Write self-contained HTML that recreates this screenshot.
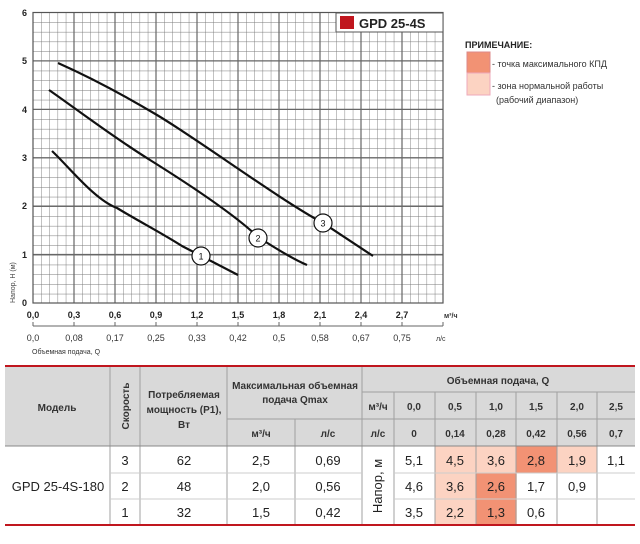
<!DOCTYPE html>
<html><head><meta charset="utf-8"><style>
html,body{margin:0;padding:0;background:#fff;}
svg{display:block;font-family:"Liberation Sans",sans-serif;}
</style></head><body>
<svg width="640" height="544" viewBox="0 0 640 544" xmlns="http://www.w3.org/2000/svg">
<defs>
<pattern id="g" x="33" y="12.5" width="8.2" height="9.7" patternUnits="userSpaceOnUse">
<path d="M0 0V9.7M0 0H8.2" stroke="#777" stroke-width="0.9" fill="none"/>
</pattern>
</defs>
<rect x="33" y="12.5" width="410" height="290.5" fill="url(#g)"/>
<g stroke="#666" stroke-width="1.2">
<line x1="74" y1="12.5" x2="74" y2="303"/><line x1="115" y1="12.5" x2="115" y2="303"/><line x1="156" y1="12.5" x2="156" y2="303"/><line x1="197" y1="12.5" x2="197" y2="303"/><line x1="238" y1="12.5" x2="238" y2="303"/><line x1="279" y1="12.5" x2="279" y2="303"/><line x1="320" y1="12.5" x2="320" y2="303"/><line x1="361" y1="12.5" x2="361" y2="303"/><line x1="402" y1="12.5" x2="402" y2="303"/>
<line x1="33" y1="60.9" x2="443" y2="60.9"/><line x1="33" y1="109.3" x2="443" y2="109.3"/><line x1="33" y1="157.7" x2="443" y2="157.7"/><line x1="33" y1="206.1" x2="443" y2="206.1"/><line x1="33" y1="254.5" x2="443" y2="254.5"/>
</g>
<rect x="33" y="12.5" width="410" height="290.5" fill="none" stroke="#555" stroke-width="1.2"/>
<g font-size="9" font-weight="bold" fill="#222" text-anchor="end">
<text x="27" y="16">6</text><text x="27" y="64">5</text><text x="27" y="113">4</text><text x="27" y="161">3</text><text x="27" y="209">2</text><text x="27" y="258">1</text><text x="27" y="306">0</text>
</g>
<text transform="translate(15,303) rotate(-90)" font-size="7" fill="#444">Напор, H (м)</text>
<g font-size="9" font-weight="bold" fill="#222" text-anchor="middle">
<text x="33" y="318">0,0</text><text x="74" y="318">0,3</text><text x="115" y="318">0,6</text><text x="156" y="318">0,9</text><text x="197" y="318">1,2</text><text x="238" y="318">1,5</text><text x="279" y="318">1,8</text><text x="320" y="318">2,1</text><text x="361" y="318">2,4</text><text x="402" y="318">2,7</text>
</g>
<text x="444" y="318" font-size="7" fill="#333" font-weight="bold">м³/ч</text>
<line x1="33" y1="326" x2="443" y2="326" stroke="#666" stroke-width="1"/>
<g stroke="#666"><line x1="33" y1="326" x2="33" y2="322"/><line x1="74" y1="326" x2="74" y2="322"/><line x1="115" y1="326" x2="115" y2="322"/><line x1="156" y1="326" x2="156" y2="322"/><line x1="197" y1="326" x2="197" y2="322"/><line x1="238" y1="326" x2="238" y2="322"/><line x1="279" y1="326" x2="279" y2="322"/><line x1="320" y1="326" x2="320" y2="322"/><line x1="361" y1="326" x2="361" y2="322"/><line x1="402" y1="326" x2="402" y2="322"/><line x1="443" y1="326" x2="443" y2="322"/></g>
<g font-size="9" fill="#333" text-anchor="middle">
<text x="33" y="341">0,0</text><text x="74" y="341">0,08</text><text x="115" y="341">0,17</text><text x="156" y="341">0,25</text><text x="197" y="341">0,33</text><text x="238" y="341">0,42</text><text x="279" y="341">0,5</text><text x="320" y="341">0,58</text><text x="361" y="341">0,67</text><text x="402" y="341">0,75</text>
</g>
<text x="436" y="341" font-size="7" fill="#333">л/с</text>
<text x="32" y="354" font-size="7" fill="#333">Объемная подача, Q</text>
<g fill="none" stroke="#111" stroke-width="2.2">
<path d="M58 63 C85 75 115 90 157 115 S280 200 323 223 L373 256"/>
<path d="M49 90 C75 108 110 135 150 160 S235 215 258 237 C275 248 295 260 307 265"/>
<path d="M52 151 C70 168 95 200 117 208 C140 222 160 232 182 246 L238 275"/>
</g>
<g fill="#fff" stroke="#111" stroke-width="1.2">
<circle cx="201" cy="256" r="9"/><circle cx="258" cy="238" r="9"/><circle cx="323" cy="223" r="9"/>
</g>
<g font-size="9" fill="#111" text-anchor="middle"><text x="201" y="259.5">1</text><text x="258" y="241.5">2</text><text x="323" y="226.5">3</text></g>
<rect x="336" y="13" width="107" height="19" fill="#fff" stroke="#555"/>
<rect x="340" y="16" width="14" height="13" fill="#c0161e"/>
<text x="359" y="28" font-size="13" font-weight="bold" fill="#222">GPD 25-4S</text>
<text x="465" y="48" font-size="9" font-weight="bold" fill="#222">ПРИМЕЧАНИЕ:</text>
<rect x="467" y="52" width="23" height="21" fill="#f29274" stroke="#d88"/>
<rect x="467" y="73" width="23" height="22" fill="#fcd3c2" stroke="#eab"/>
<text x="492" y="67" font-size="9" fill="#333">- точка максимального КПД</text>
<text x="492" y="89" font-size="9" fill="#333">- зона нормальной работы</text>
<text x="496" y="103" font-size="9" fill="#333">(рабочий диапазон)</text>

<rect x="5" y="366" width="630" height="80" fill="#d9d9d9"/>
<g fill="#fcd3c2">
<rect x="435" y="446" width="82" height="79"/><rect x="557" y="446" width="40" height="27"/>
</g>
<g fill="#f29274">
<rect x="516" y="446" width="41" height="27"/><rect x="476" y="473" width="40" height="52"/>
</g>
<rect x="362" y="446" width="32" height="79" fill="#fff"/>
<g stroke="#a0a0a0" stroke-width="1">
<line x1="110" y1="366" x2="110" y2="525"/><line x1="140" y1="366" x2="140" y2="525"/><line x1="227" y1="366" x2="227" y2="525"/><line x1="362" y1="366" x2="362" y2="525"/>
<line x1="295" y1="419" x2="295" y2="525"/>
<line x1="394" y1="392" x2="394" y2="525"/><line x1="435" y1="392" x2="435" y2="525"/><line x1="476" y1="392" x2="476" y2="525"/><line x1="516" y1="392" x2="516" y2="525"/><line x1="557" y1="392" x2="557" y2="525"/><line x1="597" y1="392" x2="597" y2="525"/>
<line x1="362" y1="392" x2="635" y2="392"/><line x1="227" y1="419" x2="635" y2="419"/><line x1="5" y1="446" x2="635" y2="446" stroke="#888"/>
</g>
<g stroke="#ccc"><line x1="110" y1="473" x2="362" y2="473"/><line x1="394" y1="473" x2="635" y2="473"/><line x1="110" y1="499" x2="362" y2="499"/><line x1="394" y1="499" x2="635" y2="499"/></g>
<line x1="5" y1="366" x2="635" y2="366" stroke="#c0161e" stroke-width="2"/>
<line x1="5" y1="525" x2="635" y2="525" stroke="#c0161e" stroke-width="2"/>
<g font-size="10" font-weight="bold" fill="#333" text-anchor="middle">
<text x="57" y="411">Модель</text>
<text transform="translate(129,406) rotate(-90)" text-anchor="middle">Скорость</text>
<text x="184" y="398">Потребляемая</text><text x="184" y="413">мощность (P1),</text><text x="184" y="428">Вт</text>
<text x="295" y="389">Максимальная объемная</text><text x="295" y="403">подача Qmax</text>
<text x="261" y="437">м³/ч</text><text x="328" y="437">л/с</text>
<text x="498" y="384">Объемная подача, Q</text>
<text x="378" y="410">м³/ч</text><text x="414" y="410">0,0</text><text x="455" y="410">0,5</text><text x="496" y="410">1,0</text><text x="536" y="410">1,5</text><text x="577" y="410">2,0</text><text x="616" y="410">2,5</text>
<text x="378" y="437">л/с</text><text x="414" y="437">0</text><text x="455" y="437">0,14</text><text x="496" y="437">0,28</text><text x="536" y="437">0,42</text><text x="577" y="437">0,56</text><text x="616" y="437">0,7</text>
</g>
<g font-size="13" fill="#222" text-anchor="middle">
<text x="58" y="491">GPD 25-4S-180</text>
<text x="125" y="465">3</text><text x="125" y="491">2</text><text x="125" y="517">1</text>
<text x="184" y="465">62</text><text x="184" y="491">48</text><text x="184" y="517">32</text>
<text x="261" y="465">2,5</text><text x="261" y="491">2,0</text><text x="261" y="517">1,5</text>
<text x="328" y="465">0,69</text><text x="328" y="491">0,56</text><text x="328" y="517">0,42</text>
<text transform="translate(382,486) rotate(-90)" text-anchor="middle">Напор, м</text>
<text x="414" y="465">5,1</text><text x="455" y="465">4,5</text><text x="496" y="465">3,6</text><text x="536" y="465">2,8</text><text x="577" y="465">1,9</text><text x="616" y="465">1,1</text>
<text x="414" y="491">4,6</text><text x="455" y="491">3,6</text><text x="496" y="491">2,6</text><text x="536" y="491">1,7</text><text x="577" y="491">0,9</text>
<text x="414" y="517">3,5</text><text x="455" y="517">2,2</text><text x="496" y="517">1,3</text><text x="536" y="517">0,6</text>
</g>
</svg>
</body></html>
